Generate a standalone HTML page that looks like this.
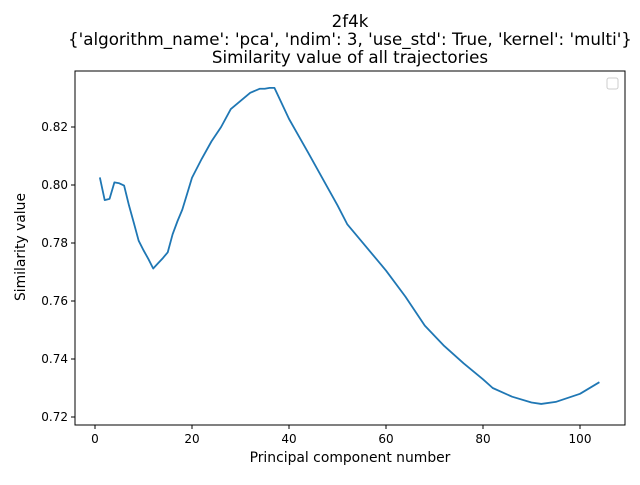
<!DOCTYPE html>
<html><head><meta charset="utf-8"><style>
body{margin:0;background:#fff}
svg text{font-family:"DejaVu Sans","Liberation Sans",sans-serif;fill:#000}
</style></head><body>
<svg id="chart" width="640" height="480" viewBox="0 0 640 480">
<text x="350" y="27" font-size="16.7" text-anchor="middle">2f4k</text>
<text x="350" y="45" font-size="16.7" text-anchor="middle">{'algorithm_name': 'pca', 'ndim': 3, 'use_std': True, 'kernel': 'multi'}</text>
<text x="350" y="63" font-size="16.7" text-anchor="middle">Similarity value of all trajectories</text>
<g id="axes"></g>
<rect x="75" y="71" width="550" height="354" fill="none" stroke="#000" stroke-width="1"/>
<rect x="607" y="78" width="11" height="11" rx="2" fill="#fff" stroke="#ccc"/>
<text x="350" y="462" font-size="13.9" text-anchor="middle">Principal component number</text>
<text x="0" y="0" font-size="13.9" text-anchor="middle" transform="translate(25,247) rotate(-90)">Similarity value</text>
</svg>
<script>
const xs=[1,2,3,4,5,6,7,8,9,10,11,12,13,14,15,16,17,18,19,20,22,24,26,28,30,32,34,35,36,37,40,44,48,50,52,55,58,60,64,68,72,76,80,82,86,90,92,95,100,104];
const ys=[.8026,.7948,.7952,.8009,.8006,.7998,.7930,.7870,.7808,.7775,.7745,.7712,.7730,.7748,.7768,.7830,.7875,.7915,.7970,.8025,.8090,.8150,.8200,.8262,.8290,.8318,.8332,.8332,.8335,.8335,.8228,.8110,.7990,.7930,.7865,.7805,.7745,.7705,.7615,.7515,.7445,.7385,.7330,.7300,.7270,.7250,.7245,.7252,.7280,.7320];
const xTicks=[0,20,40,60,80,100];
const yTicks=[0.72,0.74,0.76,0.78,0.80,0.82];
const X=v=>95+v*4.85, Y=v=>417-(v-0.72)*2900;
const NS="http://www.w3.org/2000/svg";
const g=document.getElementById('axes');
function mk(t,a){const e=document.createElementNS(NS,t);for(const k in a)e.setAttribute(k,a[k]);g.appendChild(e);return e;}
xTicks.forEach(v=>{
const l=mk('line',{x1:X(v),x2:X(v),y1:425,y2:429,stroke:'#000'});


const t=mk('text',{x:X(v),y:443,'font-size':12,'text-anchor':'middle'});t.textContent=v;


});
yTicks.forEach(v=>{
const l=mk('line',{x1:71,x2:75,y1:Y(v),y2:Y(v),stroke:'#000'});


const t=mk('text',{x:68,y:Y(v)+4,'font-size':12,'text-anchor':'end'});t.textContent=v.toFixed(2);


});
const p=mk('polyline',{points:xs.map((x,i)=>X(x)+','+Y(ys[i])).join(' '),fill:'none',stroke:'#1f77b4','stroke-width':1.8,'stroke-linejoin':'round'});


</script>
</body></html>
